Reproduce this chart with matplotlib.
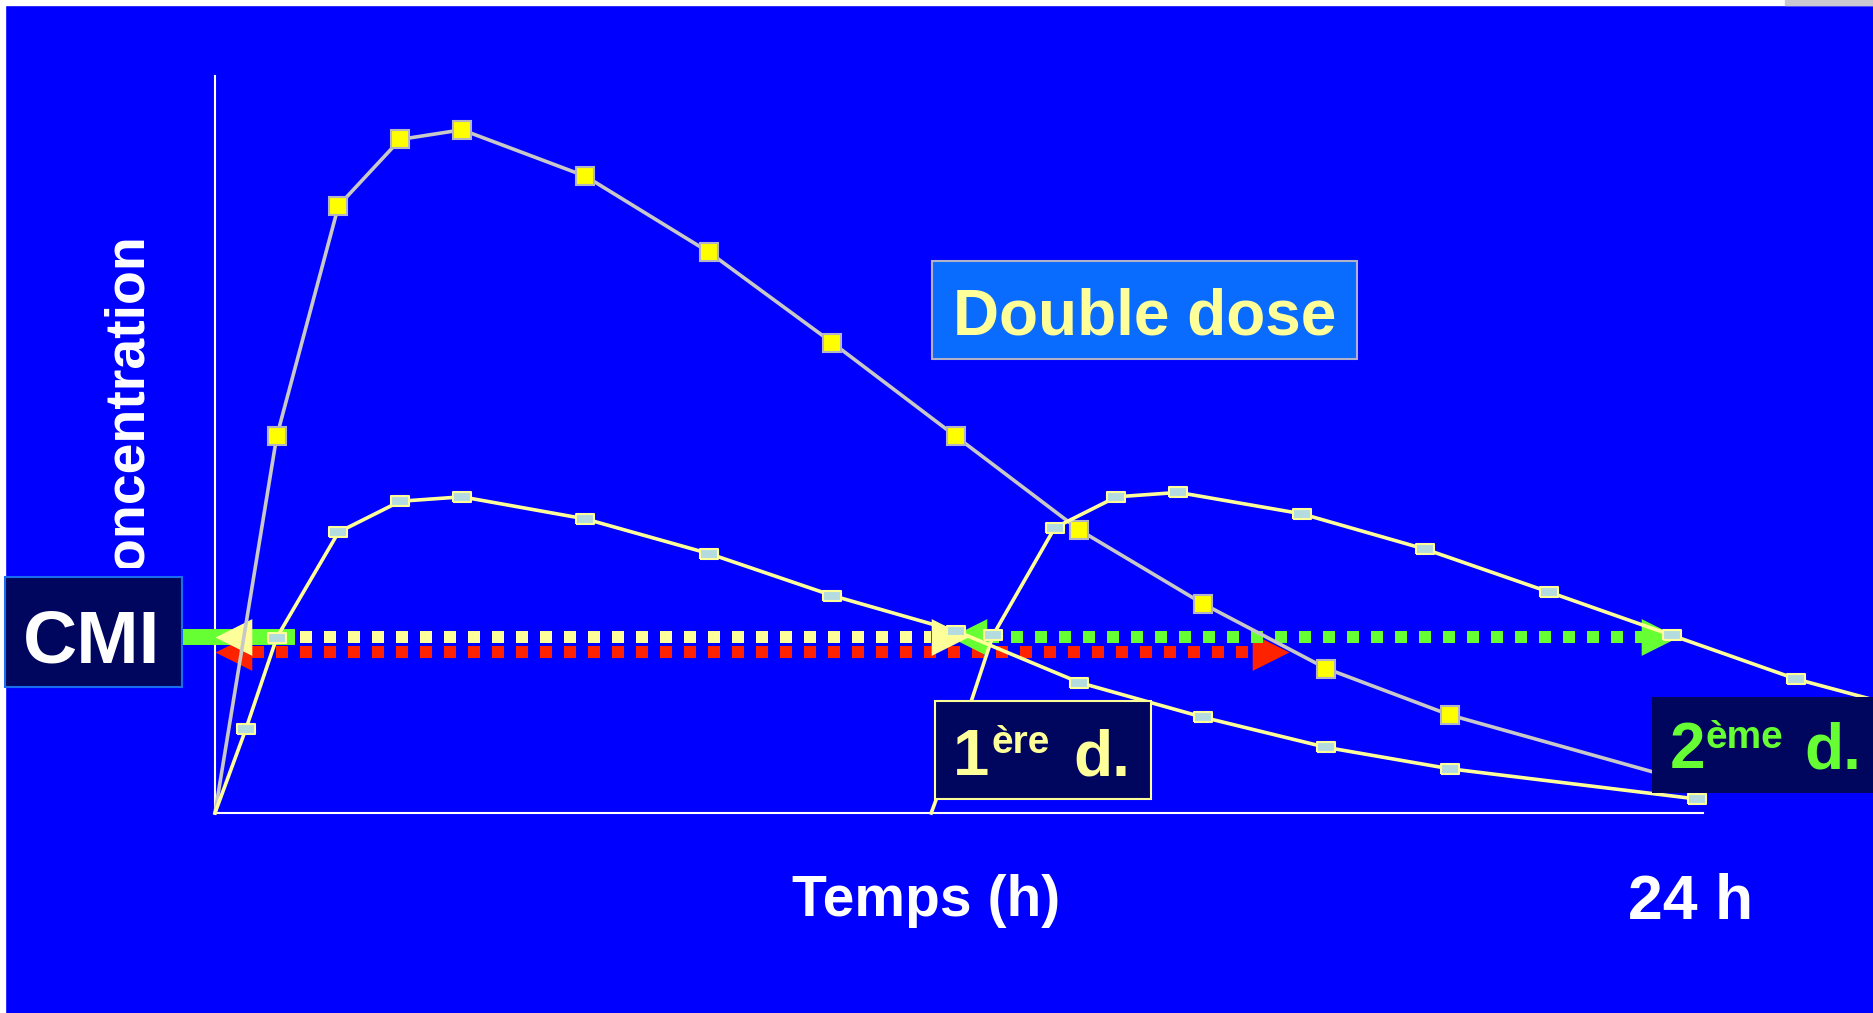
import matplotlib.pyplot as plt
from matplotlib.patches import Rectangle
from matplotlib.transforms import Bbox, TransformedBbox

W, H = 1874, 1013

# time in hours, concentration in arbitrary units (0-100 along the y axis)
dose1_t = [0, 0.5, 1, 2, 3, 4, 6, 8, 10, 12, 14, 16, 18, 20, 24]
dose1_c = [0, 11.4, 23.8, 38.1, 42.3, 42.9, 39.9, 35.2, 29.5, 24.7, 17.7, 13.0, 8.9, 6.0, 1.9]

double_t = [0, 1, 2, 3, 4, 6, 8, 10, 12, 14, 16, 18, 20, 24]
double_c = [0, 51.1, 82.4, 91.4, 92.7, 86.4, 76.1, 63.8, 51.1, 38.4, 28.4, 19.6, 13.3, 3.9]

dose2_t = [11.6, 12.1, 12.6, 13.6, 14.6, 15.6, 17.6, 19.6, 21.6, 23.6, 25.6, 27.6]
dose2_c = [0, 11.4, 24.1, 38.7, 42.9, 43.5, 40.6, 35.8, 30.0, 24.1, 18.2, 13.7]

cmi_level = 23.9
red_level = 21.8
cmi_bar = (-0.53, 1.3)
yellow_span = (0.0, 12.2)
red_span = (0.0, 17.4)
green_span = (11.9, 23.7)

BLUE = '#0000ff'
LIGHT_YELLOW = '#ffff99'
GREEN = '#66ff33'
RED = '#ff2200'
NAVY = '#00065e'

plt.rcParams['font.family'] = ['Liberation Sans', 'DejaVu Sans']
plt.rcParams['font.weight'] = 'bold'

fig = plt.figure(figsize=(W / 100, H / 100), dpi=100, facecolor=BLUE)
# white slide margins top and left
fig.add_artist(Rectangle((0, 1 - 5 / H), 1, 5 / H, transform=fig.transFigure,
                         color='white', zorder=-1))
fig.add_artist(Rectangle((0, 0), 5 / W, 1, transform=fig.transFigure,
                         color='white', zorder=-1))
fig.add_artist(Rectangle((1785 / W, 1 - 5 / H), 89 / W, 5 / H, transform=fig.transFigure,
                         color='#c8c8d0', zorder=-1))

ax = fig.add_axes([215 / W, 1 - 813 / H, (1703 - 215) / W, (813 - 76) / H])
ax.patch.set_alpha(0)
ax.set_xlim(0, 24.1)
ax.set_ylim(0, 100)
ax.set_xticks([])
ax.set_yticks([])
for s in ['top', 'right']:
    ax.spines[s].set_visible(False)
for s in ['left', 'bottom']:
    ax.spines[s].set_color('white')
    ax.spines[s].set_linewidth(1.5)

dot = dict(lw=8.64, linestyle=(0, (1, 1)), dash_capstyle='butt', clip_on=False)
head_r = [(0, 0), (-1, 0.5), (-1, -0.5), (0, 0)]
head_l = [(0, 0), (1, 0.5), (1, -0.5), (0, 0)]
head = dict(ms=53, mew=0, linestyle='none', clip_on=False)

# red arrow
ax.plot([red_span[0] + 0.6, red_span[1] - 0.55], [red_level] * 2, color=RED, zorder=2, **dot)
ax.plot([red_span[0]], [red_level], marker=head_l, color=RED, zorder=2, **head)
ax.plot([red_span[1]], [red_level], marker=head_r, color=RED, zorder=2, **head)

# green arrow (2nd dose)
ax.plot([green_span[0] + 0.6, green_span[1] - 0.5], [cmi_level] * 2, color=GREEN, zorder=2, **dot)
ax.plot([green_span[0]], [cmi_level], marker=head_l, color=GREEN, zorder=2, **head)
ax.plot([green_span[1]], [cmi_level], marker=head_r, color=GREEN, zorder=2, **head)

# yellow arrow (1st dose)
ax.plot([yellow_span[0] + 0.6, yellow_span[1] - 0.6], [cmi_level] * 2, color=LIGHT_YELLOW,
        zorder=3, **dot)

# CMI solid bar
ax.plot(cmi_bar, [cmi_level] * 2, color=GREEN, lw=11.5, solid_capstyle='butt',
        clip_on=False, zorder=3)
ax.plot([yellow_span[0]], [cmi_level], marker=head_l, color=LIGHT_YELLOW, zorder=3, **head)
ax.plot([yellow_span[1]], [cmi_level], marker=head_r, color=LIGHT_YELLOW, zorder=3, **head)

# curves (no marker on the starting point)
rect = [(-1, -0.5), (1, -0.5), (1, 0.5), (-1, 0.5), (-1, -0.5)]
ax.plot(double_t, double_c, color='#c8c8c8', lw=2.6, marker='s', ms=13,
        mfc='#ffff00', mec='#b4b4c8', mew=1.5, markevery=slice(1, None),
        clip_on=False, zorder=4)
ax.plot(dose1_t, dose1_c, color=LIGHT_YELLOW, lw=2.6, marker=rect, ms=13.5,
        mfc='#b4dce0', mec=LIGHT_YELLOW, mew=1.5, markevery=slice(1, None),
        clip_on=False, zorder=4)
ax.plot(dose2_t, dose2_c, color=LIGHT_YELLOW, lw=2.6, marker=rect, ms=13.5,
        mfc='#b4dce0', mec=LIGHT_YELLOW, mew=1.5, markevery=slice(1, None),
        clip_on=False, zorder=4)

# overlay for boxes and labels, in pixel units
ov = fig.add_axes([0, 0, 1, 1])
ov.set_xlim(0, W)
ov.set_ylim(H, 0)
ov.axis('off')

# y label: the leading "C" is hidden behind the CMI box
ylab = ov.text(142, 609, 'Concentration', rotation=90, rotation_mode='anchor',
               ha='left', va='baseline', fontsize=40, color='white', zorder=1)
ylab.set_clip_box(TransformedBbox(Bbox.from_extents(0, 0, W, 568), ov.transData))
ylab.set_clip_on(True)

ov.add_patch(Rectangle((5, 577), 177, 110, facecolor=NAVY, edgecolor='#1a6cf0', lw=1.5, zorder=3))
ov.text(92, 662, 'CMI', ha='center', va='baseline', fontsize=54, color='white', zorder=4)

ov.add_patch(Rectangle((932, 261), 425, 98, facecolor='#0a6cff', edgecolor='#b0b0c8', lw=1.5, zorder=3))
ov.text(1145, 334, 'Double dose', ha='center', va='baseline', fontsize=46,
        color=LIGHT_YELLOW, zorder=4)

ov.add_patch(Rectangle((935, 701), 216, 98, facecolor=NAVY, edgecolor=LIGHT_YELLOW, lw=1.5, zorder=3))
ov.text(953, 775, '1', ha='left', va='baseline', fontsize=47, color=LIGHT_YELLOW, zorder=4)
ov.text(992, 753, 'ère', ha='left', va='baseline', fontsize=28, color=LIGHT_YELLOW, zorder=4)
ov.text(1073, 775, 'd.', ha='left', va='baseline', fontsize=46, color=LIGHT_YELLOW, zorder=4)

ov.add_patch(Rectangle((1652, 697), 230, 96, facecolor=NAVY, edgecolor='none', zorder=3))
ov.text(1670, 768, '2', ha='left', va='baseline', fontsize=46, color=GREEN, zorder=4)
ov.text(1706, 748, 'ème', ha='left', va='baseline', fontsize=28, color=GREEN, zorder=4)
ov.text(1804, 768, 'd.', ha='left', va='baseline', fontsize=46, color=GREEN, zorder=4)

ov.text(926, 916, 'Temps (h)', ha='center', va='baseline', fontsize=41, color='white')
ov.text(1691, 919, '24 h', ha='center', va='baseline', fontsize=45, color='white')

fig.savefig('out.png', dpi=100, facecolor=BLUE)
